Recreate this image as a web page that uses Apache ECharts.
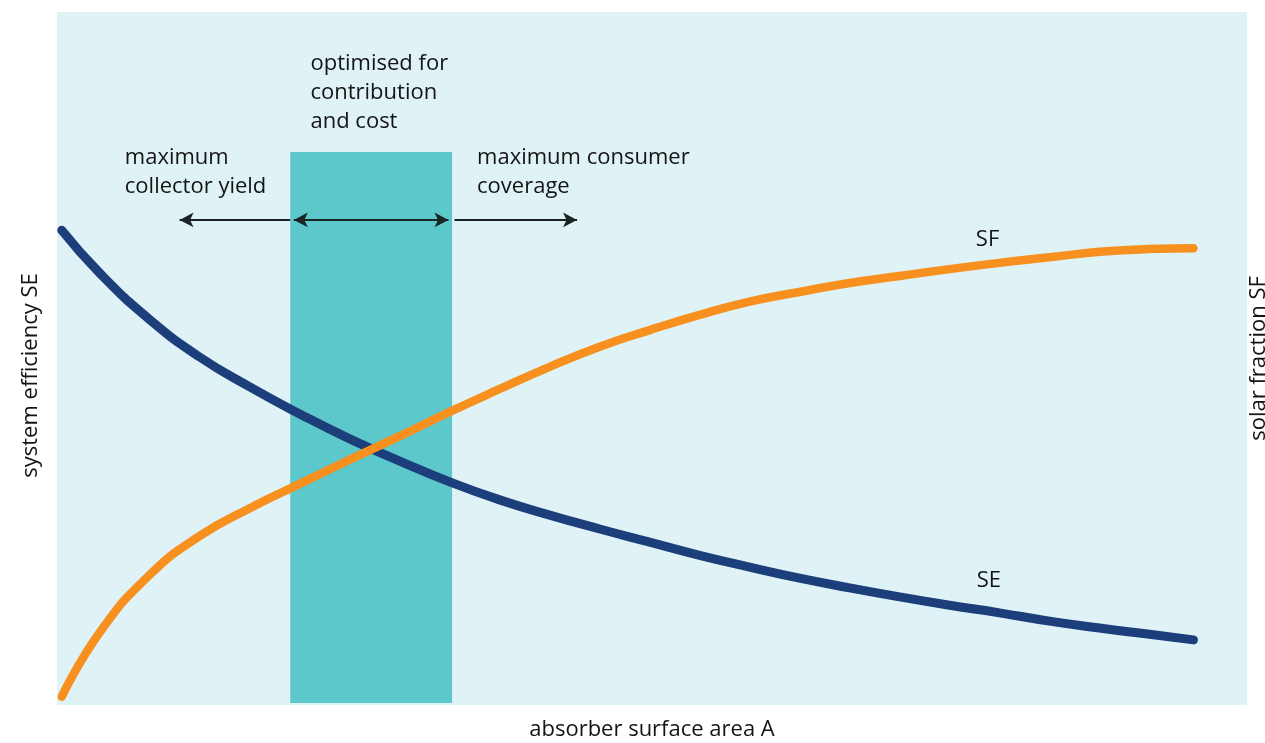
<!DOCTYPE html>
<html>
<head>
<meta charset="utf-8">
<script src="https://cdn.jsdelivr.net/npm/echarts@6/dist/echarts.min.js"></script>
<style>
html,body{margin:0;padding:0;background:#ffffff;overflow:hidden;}
#chart{width:1265px;height:743px;}
</style>
</head>
<body>
<div id="chart"></div>
<script>
// absorber surface area (relative units)
const areaX = [0.4, 3.6, 7.8, 12.0, 16.2, 20.4, 24.6, 28.8, 33.0, 37.2, 41.4, 45.6, 49.8, 54.0, 58.2, 62.4, 66.6, 70.8, 75.0, 79.2, 83.4, 87.6, 91.8, 95.5];
// system efficiency SE (relative)
const seValues = [68.5, 62.3, 55.6, 50.2, 45.9, 42.0, 38.4, 35.2, 32.2, 29.6, 27.4, 25.4, 23.5, 21.6, 19.9, 18.3, 16.9, 15.6, 14.4, 13.3, 12.1, 11.1, 10.2, 9.4];
// solar fraction SF (relative)
const sfValues = [1.2, 10.5, 18.8, 24.4, 28.4, 31.9, 35.4, 38.8, 42.3, 45.6, 48.8, 51.7, 54.1, 56.3, 58.2, 59.6, 60.9, 61.9, 62.9, 63.8, 64.6, 65.4, 65.8, 65.9];
// optimum band (start, end) on the area axis and its height
const optimumBand = [19.6, 33.2];
const optimumTop = 79.8;
// arrow row level and extents
const arrowLevel = 70;
const arrowLeft = [19.6, 10.3];
const arrowMid = [19.9, 32.9];
const arrowRight = [33.4, 43.7];
// annotation texts and anchor points
const noteTexts = ['maximum\ncollector yield', 'optimised for\ncontribution\nand cost', 'maximum consumer\ncoverage'];
const noteAnchors = [[5.7, 81.0], [21.3, 94.6], [35.3, 81.0]];
const curveLabels = ['SF', 'SE'];
const curveLabelAnchors = [[78.2, 67.1], [78.3, 17.9]];

const FONT = '"Open Sans", sans-serif';
const TXT = '#141414';

const chart = echarts.init(document.getElementById('chart'), null, {renderer: 'canvas', width: 1265, height: 743});

const seData = areaX.map((x, i) => [x, seValues[i]]);
const sfData = areaX.map((x, i) => [x, sfValues[i]]);

const option = {
  backgroundColor: '#ffffff',
  animation: false,
  grid: {
    left: 57, right: 18, top: 12, bottom: 38,
    outerBoundsMode: 'none', containLabel: false,
    show: true, backgroundColor: '#dff2f6', borderWidth: 0
  },
  xAxis: {
    type: 'value', min: 0, max: 100,
    axisLine: {show: false}, axisTick: {show: false}, axisLabel: {show: false}, splitLine: {show: false},
    name: 'absorber surface area A', nameLocation: 'middle', nameGap: 14,
    nameTextStyle: {fontFamily: FONT, fontSize: 22, color: TXT}
  },
  yAxis: [{
    type: 'value', min: 0, max: 100, position: 'left',
    axisLine: {show: false}, axisTick: {show: false}, axisLabel: {show: false}, splitLine: {show: false},
    name: 'system efficiency SE', nameLocation: 'middle', nameRotate: 90, nameGap: 15,
    nameTextStyle: {fontFamily: FONT, fontSize: 22, color: TXT, padding: [0, 34, 0, 0]}
  }, {
    type: 'value', min: 0, max: 100, position: 'right',
    axisLine: {show: false}, axisTick: {show: false}, axisLabel: {show: false}, splitLine: {show: false},
    name: 'solar fraction SF', nameLocation: 'middle', nameRotate: 90, nameGap: 1,
    nameTextStyle: {fontFamily: FONT, fontSize: 22, color: TXT}
  }],
  series: [
    {
      type: 'line', name: 'band', data: [], z: 1,
      markArea: {
        silent: true,
        itemStyle: {color: '#5dc8cb', opacity: 1},
        data: [[{coord: [optimumBand[0], 0.3]}, {coord: [optimumBand[1], optimumTop]}]]
      },
      markLine: {
        silent: true,
        symbol: ['arrow', 'arrow'],
        symbolSize: [11, 14],
        lineStyle: {color: '#1b2424', width: 2, type: 'solid'},
        label: {show: false},
        data: [
          [{coord: [arrowLeft[0], arrowLevel], symbol: 'none'}, {coord: [arrowLeft[1], arrowLevel]}],
          [{coord: [arrowMid[0], arrowLevel]}, {coord: [arrowMid[1], arrowLevel]}],
          [{coord: [arrowRight[0], arrowLevel], symbol: 'none'}, {coord: [arrowRight[1], arrowLevel]}]
        ]
      },
      markPoint: {
        silent: true,
        symbol: 'circle', symbolSize: 0,
        label: {
          show: true, position: 'inside', align: 'left', verticalAlign: 'top',
          fontFamily: FONT, fontSize: 22, lineHeight: 29, color: TXT,
          formatter: p => p.name
        },
        data: noteTexts.map((t, i) => ({name: t, coord: noteAnchors[i], value: 0}))
          .concat(curveLabels.map((t, i) => ({
            name: t, coord: curveLabelAnchors[i], value: 0,
            label: {align: 'center', verticalAlign: 'middle'}
          })))
      }
    },
    {
      type: 'line', name: 'SE', data: seData, z: 3,
      smooth: 0.5, showSymbol: false, symbol: 'none',
      lineStyle: {color: '#1c3f7c', width: 9, cap: 'round'}
    },
    {
      type: 'line', name: 'SF', data: sfData, z: 4,
      smooth: 0.5, showSymbol: false, symbol: 'none',
      lineStyle: {color: '#f7901e', width: 8.5, cap: 'round'}
    }
  ]
};
chart.setOption(option);
</script>
</body>
</html>
